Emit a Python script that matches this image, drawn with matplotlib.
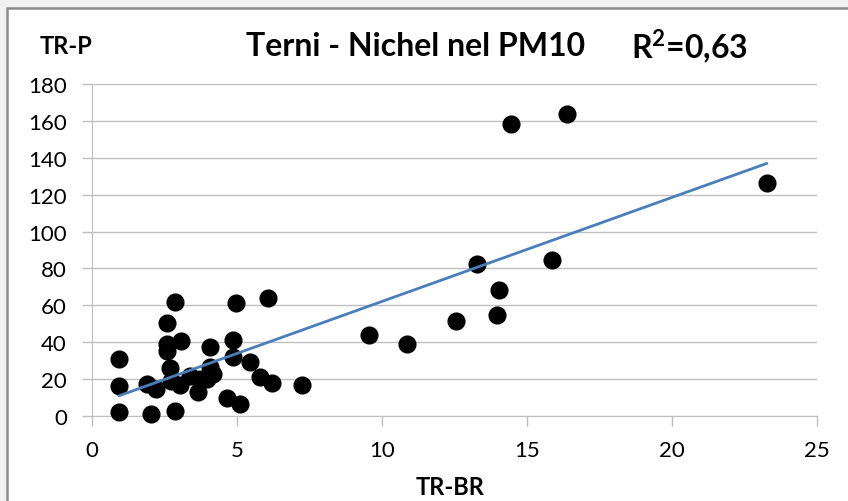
import numpy as np
import matplotlib.pyplot as plt
from matplotlib.patches import Rectangle

# Terni - Nichel nel PM10: TR-BR (x) vs TR-P (y)
tr_br = [0.94, 0.94, 0.94, 1.88, 2.2, 2.05, 2.86, 2.57, 2.57, 2.57,
         3.06, 2.69, 2.74, 3.03, 3.37, 3.72, 3.66, 2.86, 4.06, 4.06,
         4.18, 3.95, 4.87, 4.87, 4.98, 4.64, 5.1, 5.44, 5.78, 6.19,
         6.07, 7.25, 9.55, 10.87, 12.56, 13.96, 14.05, 13.27, 15.85, 14.45,
         16.37, 23.26]
tr_p = [31, 16, 2.3, 17.4, 14.7, 1, 61.8, 50.4, 39, 35.5,
        40.8, 25.9, 19.2, 16.9, 21.9, 20, 12.9, 2.9, 37.3, 26.5,
        22.8, 20, 41, 32, 61, 9.8, 6.5, 29.2, 21, 17.9,
        64, 16.9, 43.7, 39.2, 51.5, 54.6, 68.1, 82.6, 84.5, 158.2,
        163.8, 126.5]
x_ticks = [0, 5, 10, 15, 20, 25]
y_ticks = [0, 20, 40, 60, 80, 100, 120, 140, 160, 180]

plt.rcParams['font.family'] = ['Lato', 'DejaVu Sans']

fig = plt.figure(figsize=(8.48, 5.02), dpi=100)
fig.patch.set_facecolor('#f0f0f0')
# area bianca del grafico con bordo grigio
fig.patches.append(Rectangle((7 / 848, -0.05), 1.05, (502 - 9) / 502 + 0.05,
                             transform=fig.transFigure, facecolor='white',
                             edgecolor='#8c8c8c', linewidth=1.8, zorder=-1))

ax = fig.add_axes([92 / 848, (502 - 417) / 502, (817 - 92) / 848, (417 - 85) / 502])
ax.set_zorder(2)
ax.set_facecolor('none')
ax.set_xlim(0, 25)
ax.set_ylim(0, 180)
ax.set_xticks(x_ticks)
ax.set_yticks(y_ticks)

for s in ['top', 'right']:
    ax.spines[s].set_visible(False)
ax.spines['left'].set_color('#bfbfbf')
ax.spines['bottom'].set_color('#bfbfbf')
ax.yaxis.grid(True, color='#bfbfbf', linewidth=1)
ax.set_axisbelow(True)
ax.tick_params(axis='both', colors='#bfbfbf', labelcolor='black', labelsize=16,
               length=7, width=1)
ax.tick_params(axis='y', pad=11)
ax.tick_params(axis='x', pad=10)

ax.scatter(tr_br, tr_p, s=145, color='black', zorder=3, clip_on=False)

# linea di tendenza lineare
k, q = np.polyfit(tr_br, tr_p, 1)
xs = np.array([min(tr_br), max(tr_br)])
ax.plot(xs, k * xs + q, color='#4a7ebb', linewidth=2, zorder=4)

fig.text(40 / 848, 1 - 47 / 502, 'TR-P', fontsize=17, fontweight='bold', va='center')
fig.text(450 / 848, 1 - 488 / 502, 'TR-BR', fontsize=17, fontweight='bold',
         ha='center', va='center')
fig.text(416 / 848, 1 - 47 / 502, 'Terni - Nichel nel PM10', fontsize=23,
         fontweight='bold', ha='center', va='center')
fig.text(690 / 848, 1 - 47 / 502, r'R$^\mathregular{2}$=0,63', fontsize=23,
         fontweight='bold', ha='center', va='center')

fig.savefig('out.png', dpi=100, facecolor=fig.get_facecolor())
